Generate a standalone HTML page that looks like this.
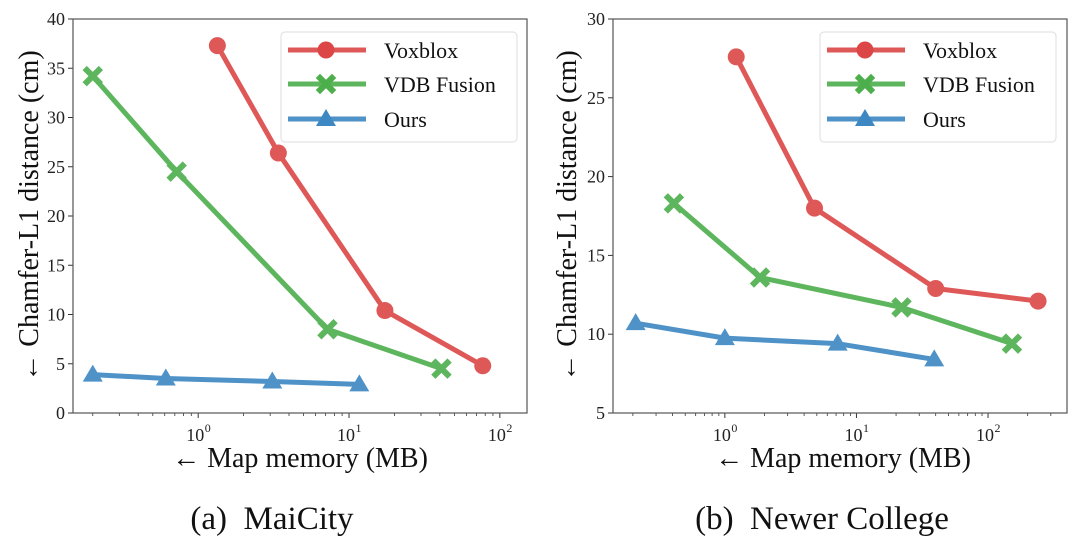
<!DOCTYPE html>
<html><head><meta charset="utf-8"><style>
body{margin:0;background:#fff;}
svg{display:block;font-family:"Liberation Serif",serif;}
</style></head><body>
<svg id="fig" width="1080" height="554" viewBox="0 0 1080 554"></svg>
<script>
// Panel (a) MaiCity
const aVoxX=[1.34,3.4,17.3,77];
const aVoxY=[37.3,26.4,10.4,4.8];
const aVdbX=[0.2,0.72,7.2,41];
const aVdbY=[34.2,24.5,8.5,4.5];
const aOursX=[0.2,0.61,3.1,11.7];
const aOursY=[3.9,3.5,3.2,2.9];
const aYTicks=[0,5,10,15,20,25,30,35,40];
// Panel (b) Newer College
const bVoxX=[1.22,4.8,40,240];
const bVoxY=[27.6,18.0,12.9,12.1];
const bVdbX=[0.41,1.85,22,152];
const bVdbY=[18.3,13.6,11.7,9.4];
const bOursX=[0.21,1.0,7.2,39];
const bOursY=[10.7,9.75,9.4,8.4];
const bYTicks=[5,10,15,20,25,30];
const xTickExp=[0,1,2];
const seriesNames=["Voxblox","VDB Fusion","Ours"];

const NS="http://www.w3.org/2000/svg";
const svg=document.getElementById('fig');
function mk(tag,attrs,parent){const e=document.createElementNS(NS,tag);for(const k in attrs)e.setAttribute(k,attrs[k]);(parent||svg).appendChild(e);return e;}
const COL=["#dc4646","#4caf4c","#3d87c2"];

function panel(cfg){
  const g=mk('g',{});
  
  
  const L=cfg.left,R=cfg.right,T=19,B=413;
  const lx0=cfg.lxmin,lx1=cfg.lxmax;
  const xs=v=>L+(Math.log10(v)-lx0)/(lx1-lx0)*(R-L);
  const ys=v=>B-(v-cfg.ymin)/(cfg.ymax-cfg.ymin)*(B-T);
  cfg.yt.forEach(t=>{
    const y=ys(t);
    mk('line',{x1:L-5,x2:L,y1:y,y2:y,stroke:'#333','stroke-width':1},g);
    const tx=mk('text',{x:L-8,y:y+6,'text-anchor':'end','font-size':18,fill:'#222'},g);
    tx.textContent=t;
    
    
  });
  for(let e=Math.floor(lx0);e<=Math.ceil(lx1);e++){
    for(let m=1;m<10;m++){
      const lv=e+Math.log10(m);
      if(lv<lx0||lv>lx1)continue;
      const x=L+(lv-lx0)/(lx1-lx0)*(R-L);
      mk('line',{x1:x,x2:x,y1:B,y2:B+(m===1?5:3),stroke:'#333','stroke-width':m===1?1:0.8},g);
    }
  }
  xTickExp.forEach(e=>{
    const x=xs(Math.pow(10,e));
    const tx=mk('text',{x:x-3,y:B+28,'text-anchor':'middle','font-size':18,fill:'#222'},g);
    tx.textContent='10';
    
    
    const sp=mk('text',{x:x+6.5,y:B+19,'font-size':12,fill:'#222'},g);
    sp.textContent=e;
  });
  const data=[[cfg.vx,cfg.vy],[cfg.dx,cfg.dy],[cfg.ox,cfg.oy]];
  data.forEach((d,si)=>{
    const sg=mk('g',{opacity:0.9},g);
    
    
    const pts=d[0].map((v,i)=>xs(v)+','+ys(d[1][i])).join(' ');
    mk('polyline',{points:pts,fill:'none',stroke:COL[si],'stroke-width':5,'stroke-linejoin':'round'},sg);
    d[0].forEach((v,i)=>marker(si,xs(v),ys(d[1][i]),sg));
  });
  mk('rect',{x:L,y:T,width:R-L,height:B-T,fill:'none',stroke:'#555','stroke-width':1.2},g);
  const lg=mk('g',{},g);
  
  
  const lx=cfg.legX;
  mk('rect',{x:lx,y:32,width:236,height:110,rx:4,fill:'#fff',stroke:'#ddd','stroke-width':1},lg);
  [50,84,119].forEach((yy,si)=>{
    mk('line',{x1:lx+7,x2:lx+85,y1:yy,y2:yy,stroke:COL[si],'stroke-width':5,opacity:0.9},lg);
    marker(si,lx+45,yy,lg);
    const t=mk('text',{x:lx+103,y:yy+8,'font-size':22,fill:'#111'},lg);
    t.textContent=seriesNames[si];
    
    
  });
  const yl=mk('text',{x:0,y:0,'text-anchor':'middle','font-size':28,fill:'#111',transform:`translate(${cfg.ylx},216) rotate(-90)`},g);
  yl.textContent='← Chamfer-L1 distance (cm)';
  
  
  const xl=mk('text',{x:cfg.xlx,y:467,'text-anchor':'middle','font-size':28,fill:'#111'},g);
  xl.textContent='← Map memory (MB)';
  
  
  const cap=mk('text',{x:cfg.capx,y:529,'text-anchor':'middle','font-size':33,fill:'#111'},g);
  cap.textContent=cfg.caption;
  
  
}
function marker(si,x,y,p){
  const c=COL[si];
  if(si===0){mk('circle',{cx:x,cy:y,r:8.5,fill:c},p);}
  else if(si===1){
    const s=6;
    mk('path',{d:`M${x-s},${y-s}L${x+s},${y+s}M${x-s},${y+s}L${x+s},${y-s}`,stroke:c,'stroke-width':6,'stroke-linecap':'square'},p);
  } else {
    mk('polygon',{points:`${x},${y-10} ${x+10},${y+7} ${x-10},${y+7}`,fill:c},p);
  }
}
panel({name:'chart-maicity',left:73,right:527,lxmin:-0.83,lxmax:2.18,ymin:0,ymax:40,yt:aYTicks,
  vx:aVoxX,vy:aVoxY,dx:aVdbX,dy:aVdbY,ox:aOursX,oy:aOursY,legX:281,ylx:38,xlx:300,capx:272,caption:'(a)\u00a0 MaiCity'});
panel({name:'chart-newer-college',left:613,right:1067,lxmin:-0.85,lxmax:2.6,ymin:5,ymax:30,yt:bYTicks,
  vx:bVoxX,vy:bVoxY,dx:bVdbX,dy:bVdbY,ox:bOursX,oy:bOursY,legX:820,ylx:576,xlx:843,capx:822,caption:'(b)\u00a0 Newer College'});
</script>
</body></html>
